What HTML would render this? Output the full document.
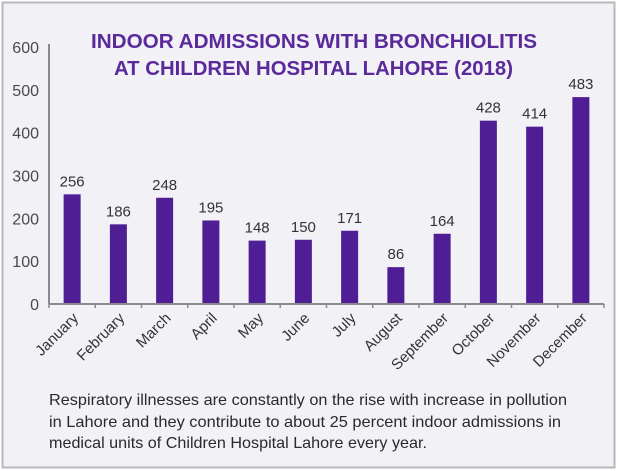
<!DOCTYPE html>
<html><head><meta charset="utf-8"><style>
html,body{margin:0;padding:0;background:#fff;}
svg{display:block;}
</style></head><body>
<svg width="618" height="471" viewBox="0 0 618 471" xmlns="http://www.w3.org/2000/svg">
<rect x="2.5" y="2.5" width="612" height="465" fill="#f2f1f6" stroke="#b8b8bc" stroke-width="2"/>
<g font-family="Liberation Sans, sans-serif" font-weight="bold" fill="#5a2a9a">
<text x="91" y="48" font-size="20" textLength="446" lengthAdjust="spacingAndGlyphs">INDOOR ADMISSIONS WITH BRONCHIOLITIS</text>
<text x="114" y="75" font-size="20" textLength="399" lengthAdjust="spacingAndGlyphs">AT CHILDREN HOSPITAL LAHORE (2018)</text>
</g>
<g id="plot"></g>
<g font-family="Liberation Sans, sans-serif" font-size="16" fill="#2a2a2a">
<text x="49" y="405" textLength="518" lengthAdjust="spacingAndGlyphs">Respiratory illnesses are constantly on the rise with increase in pollution</text>
<text x="49" y="427" textLength="512" lengthAdjust="spacingAndGlyphs">in Lahore and they contribute to about 25 percent indoor admissions in</text>
<text x="49" y="448" textLength="378" lengthAdjust="spacingAndGlyphs">medical units of Children Hospital Lahore every year.</text>
</g>
</svg>
<script>
const months = ["January","February","March","April","May","June","July","August","September","October","November","December"];
const admissions = [256,186,248,195,148,150,171,86,164,428,414,483];
const yTicks = [0,100,200,300,400,500,600];
const NS = "http://www.w3.org/2000/svg";
const x0 = 49, x1 = 604, y0 = 304, yTop = 47, yMax = 600;
const band = (x1 - x0) / months.length;
function xc(i){ return x0 + band * (i + 0.5); }
function yv(v){ return y0 - (v / yMax) * (y0 - yTop); }
const plot = document.getElementById('plot');
function mk(tag, attrs){ const e = document.createElementNS(NS, tag); for (const k in attrs) e.setAttribute(k, attrs[k]); plot.appendChild(e); return e; }
const ya = mk('line', {x1:x0, y1:yTop-3, x2:x0, y2:y0, stroke:'#8a8a8e', 'stroke-width':2});


yTicks.forEach(t => {
  const tl = mk('text', {x:39, y:yv(t)+6, 'text-anchor':'end', 'font-family':'Liberation Sans, sans-serif', 'font-size':16, fill:'#4a4a4a'});
  tl.textContent = t;
  
  
});
admissions.forEach((v, i) => {
  const b = mk('rect', {x:xc(i)-8.5, y:yv(v), width:17, height:y0-yv(v), fill:'#4f1e95'});
  
  
  const l = mk('text', {x:xc(i), y:yv(v)-8, 'text-anchor':'middle', 'font-family':'Liberation Sans, sans-serif', 'font-size':15, fill:'#333'});
  l.textContent = v;
  
  
  const m = mk('text', {x:0, y:0, 'text-anchor':'end', 'font-family':'Liberation Sans, sans-serif', 'font-size':15, fill:'#333', transform:'translate(' + (xc(i)+7) + ',319) rotate(-45)'});
  m.textContent = months[i];
  
  
});
const xa = mk('line', {x1:x0, y1:y0, x2:x1, y2:y0, stroke:'#8a8a8e', 'stroke-width':2});


for (let i = 0; i <= months.length; i++) {
  const tk = mk('line', {x1:x0+band*i, y1:y0, x2:x0+band*i, y2:y0+4, stroke:'#8a8a8e', 'stroke-width':1.5});
  
  
}
</script>
</body></html>
